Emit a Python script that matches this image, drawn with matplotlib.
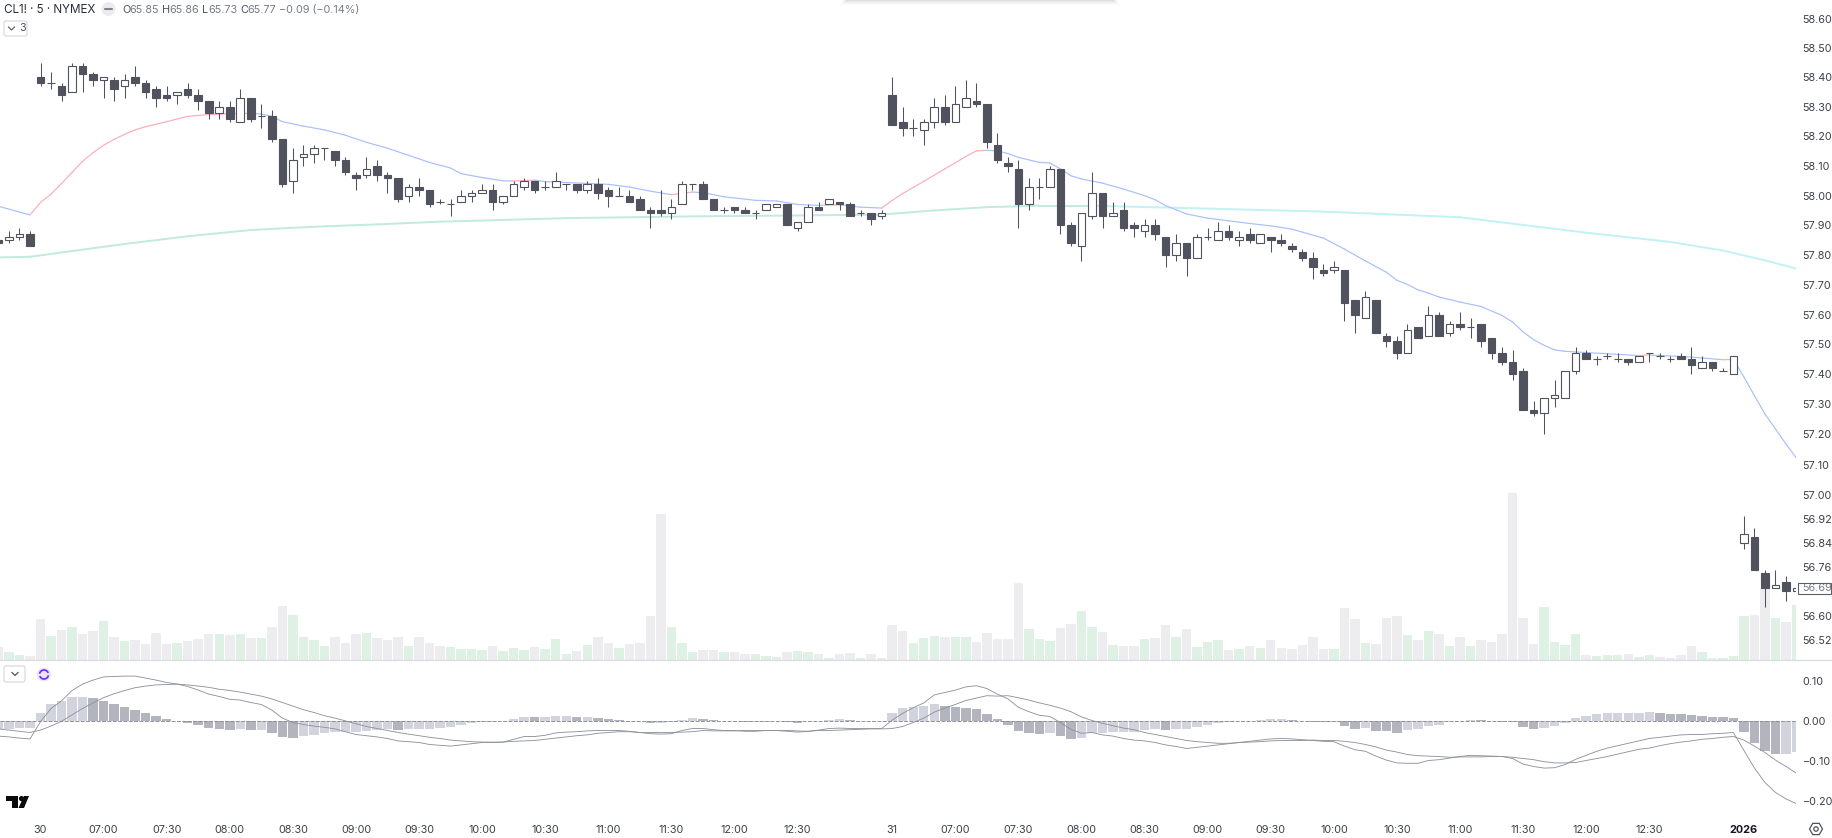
import matplotlib
matplotlib.use("Agg")
import matplotlib.pyplot as plt
from matplotlib.patches import Rectangle, FancyBboxPatch, Circle, Polygon, Arc
from matplotlib.ticker import NullLocator, NullFormatter
import numpy as np

plt.rcParams['font.family'] = ['Inter', 'DejaVu Sans']

# ---------- data ----------
bars = list(range(-4, 168))

opens = [57.85,57.85,57.86,57.87,
 58.40,58.38,58.37,58.35,58.44,58.41,58.39,58.39,58.37,58.40,58.38,58.36,58.34,58.34,58.36,58.34,
 58.32,58.28,58.30,58.25,58.33,58.27,58.27,58.19,58.05,58.13,58.14,58.16,58.15,58.12,58.07,58.07,
 58.10,58.07,58.06,58.00,58.03,58.02,57.98,57.97,57.98,58.00,58.01,58.02,57.98,58.00,58.03,58.05,
 58.03,58.03,58.04,58.04,58.02,58.04,58.02,58.00,58.00,57.99,57.95,57.95,57.94,57.97,58.04,58.04,
 57.99,57.95,57.96,57.95,57.94,57.95,57.96,57.97,57.89,57.91,57.96,57.97,57.98,57.97,57.94,57.94,
 57.93,
 58.34,58.25,58.23,58.22,58.25,58.30,58.25,58.30,58.32,58.31,58.17,58.11,58.09,57.97,58.03,58.03,
 58.09,57.90,57.83,57.93,58.01,57.93,57.95,57.90,57.88,57.90,57.86,57.80,57.84,57.79,57.86,57.85,
 57.88,57.85,57.87,57.84,57.86,57.85,57.83,57.81,57.79,57.75,57.75,57.75,57.65,57.59,57.65,57.53,
 57.51,57.47,57.56,57.53,57.60,57.54,57.57,57.56,57.57,57.52,57.47,57.44,57.41,57.28,57.27,57.32,
 57.32,57.41,57.47,57.45,57.46,57.45,57.45,57.44,57.47,57.46,57.45,57.46,57.45,57.42,57.44,57.41,
 57.40,56.84,56.86,56.74,56.69,56.71,56.68]
highs = [57.85,57.88,57.89,57.88,
 58.45,58.42,58.38,58.45,58.45,58.42,58.40,58.40,58.41,58.44,58.39,58.37,58.37,58.35,58.38,58.36,
 58.32,58.32,58.32,58.36,58.33,58.31,58.29,58.19,58.16,58.17,58.17,58.16,58.15,58.13,58.08,58.13,
 58.12,58.08,58.06,58.04,58.06,58.02,57.99,57.99,58.02,58.02,58.04,58.04,58.00,58.05,58.06,58.05,
 58.05,58.08,58.04,58.04,58.05,58.06,58.03,58.03,58.02,58.00,57.96,58.02,57.99,58.05,58.04,58.05,
 57.99,57.96,57.96,57.96,57.95,57.97,57.97,57.97,57.91,57.97,57.98,57.99,57.98,57.98,57.95,57.94,
 57.95,
 58.40,58.30,58.26,58.26,58.33,58.34,58.37,58.39,58.38,58.31,58.21,58.13,58.12,58.06,58.06,58.10,
 58.09,57.91,57.94,58.08,58.01,57.98,57.98,57.91,57.92,57.92,57.86,57.87,57.84,57.87,57.89,57.91,
 57.90,57.88,57.89,57.87,57.86,57.87,57.84,57.82,57.81,57.77,57.78,57.75,57.65,57.68,57.65,57.54,
 57.53,57.57,57.56,57.63,57.61,57.58,57.61,57.59,57.57,57.52,57.49,57.48,57.42,57.31,57.32,57.38,
 57.41,57.49,57.48,57.46,57.47,57.47,57.45,57.46,57.47,57.47,57.46,57.47,57.49,57.46,57.44,57.42,
 57.46,56.93,56.89,56.75,56.75,56.73,56.69]
lows = [57.84,57.84,57.85,57.83,
 58.37,58.36,58.32,58.35,58.35,58.37,58.33,58.32,58.33,58.37,58.33,58.30,58.32,58.31,58.33,58.29,
 58.26,58.26,58.25,58.25,58.25,58.23,58.18,58.03,58.01,58.10,58.11,58.12,58.10,58.07,58.02,58.06,
 58.05,58.01,57.98,57.98,58.00,57.96,57.97,57.93,57.98,57.98,58.01,57.95,57.97,58.00,58.02,58.01,
 58.02,58.03,58.02,58.01,58.01,57.99,57.96,58.00,57.98,57.95,57.89,57.93,57.92,57.97,58.02,57.99,
 57.95,57.94,57.94,57.94,57.92,57.95,57.96,57.90,57.88,57.91,57.95,57.97,57.95,57.93,57.93,57.90,
 57.92,
 58.24,58.20,58.20,58.17,58.23,58.24,58.25,58.30,58.30,58.16,58.11,58.08,57.89,57.95,57.99,58.03,
 57.87,57.83,57.78,57.92,57.89,57.93,57.88,57.86,57.86,57.85,57.76,57.78,57.73,57.79,57.85,57.85,
 57.85,57.83,57.84,57.84,57.81,57.83,57.81,57.78,57.72,57.73,57.74,57.58,57.54,57.59,57.54,57.49,
 57.45,57.47,57.52,57.53,57.53,57.53,57.55,57.52,57.49,57.45,57.43,57.38,57.28,57.26,57.20,57.29,
 57.32,57.40,57.45,57.43,57.45,57.44,57.43,57.44,57.44,57.45,57.44,57.45,57.40,57.42,57.41,57.41,
 57.40,56.82,56.75,56.63,56.69,56.65,56.68]
closes = [57.84,57.86,57.87,57.83,
 58.38,58.38,58.34,58.44,58.41,58.39,58.40,58.36,58.39,58.38,58.35,58.33,58.33,58.35,58.34,58.32,
 58.28,58.30,58.26,58.33,58.26,58.27,58.19,58.04,58.12,58.14,58.16,58.16,58.12,58.08,58.06,58.09,
 58.07,58.06,57.99,58.03,58.02,57.97,57.98,57.97,58.00,58.01,58.02,57.98,58.00,58.04,58.05,58.02,
 58.03,58.05,58.04,58.02,58.04,58.01,58.00,58.00,57.98,57.95,57.94,57.94,57.96,58.04,58.04,57.99,
 57.95,57.95,57.95,57.94,57.94,57.97,57.97,57.90,57.91,57.96,57.95,57.99,57.97,57.93,57.94,57.92,
 57.94,
 58.24,58.23,58.23,58.25,58.30,58.25,58.31,58.33,58.31,58.18,58.12,58.10,57.97,58.03,58.03,58.09,
 57.90,57.84,57.94,58.01,57.93,57.94,57.89,57.89,57.90,57.87,57.80,57.84,57.79,57.86,57.86,57.88,
 57.86,57.86,57.85,57.87,57.85,57.84,57.82,57.79,57.76,57.74,57.76,57.64,57.60,57.66,57.54,57.51,
 57.47,57.55,57.52,57.60,57.53,57.57,57.56,57.56,57.51,57.47,57.44,57.40,57.28,57.27,57.32,57.33,
 57.41,57.47,57.45,57.45,57.46,57.45,57.44,57.46,57.47,57.46,57.45,57.45,57.43,57.44,57.42,57.41,
 57.46,56.87,56.75,56.69,56.70,56.68,56.69]

volume = [40,23,15,12,
 122,72,90,99,78,87,117,69,57,60,48,81,48,52,57,63,78,78,75,77,66,66,99,162,135,68,60,41,69,51,78,81,66,60,68,42,69,50,42,40,33,32,30,41,27,36,30,39,32,63,17,27,45,68,50,36,
 48,50,132,438,99,51,23,30,30,23,25,18,18,12,9,23,27,25,18,6,18,21,6,18,6,
 105,87,51,66,72,69,69,69,54,81,63,63,231,93,63,57,96,108,147,99,84,45,42,42,63,66,104,68,93,40,54,59,30,32,
 41,36,59,36,32,45,68,32,33,155,123,51,48,126,131,76,60,86,78,42,68,41,60,54,78,501,126,48,158,54,45,78,15,12,14,15,18,9,15,9,6,15,42,23,6,5,12,132,135,216,126,114,165]
green_bars = [-3,-2,1,3,6,8,13,17,19,21,24,25,26,27,31,35,39,40,41,42,44,45,46,48,49,50,52,55,60,61,62,65,68,
 69,70,72,73,75,78,80,83,84,85,87,88,94,95,96,99,100,102,105,108,110,111,112,114,116,123,126,130,132,134,
 136,143,144,145,146,148,149,150,152,153,158,160,161,162,165,167]

# MACD study, thousandths
hist = [-20,-19,-17,-17,
 21,43,51,61,61,58,52,43,36,28,20,13,5,1,-4,-10,-17,-18,-22,-20,-22,-22,-28,-39,-41,-37,-33,-29,-27,-27,-27,-23,-22,-20,-22,-19,-18,-18,-17,-15,-10,-5,-2,-1,0,5,11,10,10,13,13,10,10,8,5,3,
 1,0,-3,-3,-2,3,8,5,3,2,1,-2,-2,-1,1,-2,-3,0,2,4,5,3,2,1,1,
 21,33,37,38,43,38,36,34,31,18,5,-8,-24,-29,-31,-28,-36,-44,-41,-30,-29,-26,-26,-26,-22,-20,-22,-20,-20,-14,-8,-4,-1,0,
 2,4,5,5,3,2,-1,-2,-2,-12,-18,-17,-23,-25,-28,-22,-19,-12,-8,-2,1,4,3,2,-1,-2,-14,-18,-16,-12,-3,8,13,18,21,21,21,21,23,21,19,18,16,13,12,10,9,-27,-55,-75,-81,-81,-76]
signal = [-19,-22,-25,-28,
 -22,-12,0,16,32,46,59,69,77,84,88,91,92,93,91,88,85,80,77,73,68,63,56,47,38,29,22,14,8,1,-6,-13,-18,-23,-28,-32,-36,-40,-43,-47,-49,-51,-52,-52,-52,-50,-49,-48,-45,-42,-39,-36,-34,-30,-28,-26,
 -26,-28,-28,-28,-28,-27,-26,-23,-24,-24,-24,-23,-23,-23,-23,-23,-24,-25,-23,-23,-22,-21,-20,-19,-19,
 -18,-13,-3,8,23,33,42,52,58,64,63,64,59,53,46,40,33,24,11,2,-5,-11,-17,-21,-28,-33,-38,-43,-48,-51,-53,-55,-55,-53,
 -52,-51,-49,-48,-48,-48,-47,-48,-48,-50,-53,-58,-64,-72,-77,-83,-86,-87,-88,-90,-89,-89,-89,-88,-88,-90,-93,-96,-101,-104,-104,-103,-98,-93,-88,-82,-76,-70,-67,-61,-56,-52,-49,-45,-43,-40,-38,-47,-62,-78,-97,-113,-130]
macd = [-37,-39,-42,-44,
 -1,32,51,77,93,103,111,112,113,113,108,103,97,93,87,78,68,62,55,53,47,42,28,8,-3,-8,-12,-15,-19,-26,-33,-36,-39,-43,-49,-51,-53,-58,-60,-62,-59,-56,-53,-53,-52,-45,-38,-38,-35,-29,-27,-26,-24,-23,-23,-23,
 -25,-28,-31,-32,-31,-23,-18,-18,-21,-23,-23,-25,-25,-23,-23,-25,-27,-25,-22,-18,-17,-18,-18,-18,-18,
 3,20,34,46,66,72,78,86,89,82,68,56,35,24,15,12,-3,-20,-30,-28,-34,-37,-43,-47,-49,-53,-59,-63,-68,-65,-62,-59,-56,-53,
 -50,-47,-44,-43,-44,-46,-48,-50,-51,-62,-71,-75,-87,-97,-104,-105,-105,-98,-96,-92,-88,-85,-86,-87,-88,-93,-107,-113,-117,-116,-108,-95,-85,-75,-67,-61,-55,-49,-43,-40,-37,-34,-33,-33,-31,-30,-28,-73,-117,-153,-178,-194,-206]

# moving averages (bar, value)
ema_fast_bar = [-4,-1,0,1,2,3,4,5,6,7,8,9,10,12,14,16,18,20,21,22,23,25,27,29,31,33,35,37,39,40,42,44,45,46,47,48,50,52,54,56,58,60,61,62,63,65,68,70,72,74,76,78,80,
 81,82,84,86,88,89,90,91,92,93,95,96,97,98,99,101,103,105,106,107,108,109,111,113,115,117,119,120,122,124,126,128,129,130,131,132,133,135,137,139,140,141,142,143,144,145,147,150,152,153,157,160,161,162,163,164,165,166,167]
ema_fast_val = [57.964,57.935,57.977,58.005,58.041,58.078,58.116,58.145,58.170,58.190,58.207,58.222,58.233,58.250,58.268,58.274,58.277,58.278,58.276,58.268,58.250,58.235,58.222,58.204,58.180,58.160,58.136,58.112,58.093,58.074,58.061,58.050,58.049,58.051,58.052,58.047,58.044,58.041,58.038,58.029,58.015,58.003,58.008,58.012,58.010,57.996,57.984,57.982,57.970,57.967,57.969,57.961,57.958,
 57.984,58.007,58.048,58.090,58.132,58.151,58.153,58.151,58.142,58.129,58.112,58.110,58.090,58.067,58.056,58.042,58.022,58.000,57.986,57.966,57.952,57.938,57.924,57.915,57.906,57.898,57.887,57.877,57.857,57.820,57.780,57.742,57.715,57.701,57.683,57.672,57.659,57.642,57.627,57.597,57.575,57.542,57.516,57.497,57.482,57.477,57.473,57.467,57.463,57.465,57.458,57.449,57.450,57.391,57.329,57.268,57.218,57.168,57.121]
ema_slow_bar = [-4,-1,4,8,14,20,26,32,38,50,62,72,80,85,90,95,100,110,122,135,147,155,160,164,167]
ema_slow_val = [57.792,57.794,57.818,57.837,57.863,57.884,57.895,57.903,57.912,57.924,57.930,57.933,57.936,57.950,57.961,57.966,57.966,57.957,57.946,57.927,57.875,57.844,57.815,57.782,57.754]

time_pos = [0,6,12,18,24,30,36,42,48,54,60,66,72,81,87,93,99,105,111,117,123,129,135,141,147,153,162]
time_labels = ['30','07:00','07:30','08:00','08:30','09:00','09:30','10:00','10:30','11:00','11:30','12:00','12:30',
               '31','07:00','07:30','08:00','08:30','09:00','09:30','10:00','10:30','11:00','11:30','12:00','12:30','2026']
price_ticks = [58.60,58.50,58.40,58.30,58.20,58.10,58.00,57.90,57.80,57.70,57.60,57.50,57.40,57.30,57.20,57.10,57.00,56.92,56.84,56.76,56.60,56.52]
macd_ticks = [0.10,0.00,-0.10,-0.20]

for arr in (opens, highs, lows, closes, volume, hist, signal, macd):
    assert len(arr) == len(bars), len(arr)
assert len(ema_fast_bar) == len(ema_fast_val)

# ---------- styling ----------
W, H = 1832, 838
DARK = '#50535E'
TXT = '#3E4048'
XMIN = (0 - 40.5) / 10.515
XMAX = (1796 - 40.5) / 10.515
FS = 7.8

fig = plt.figure(figsize=(W / 100, H / 100), dpi=100, facecolor='white')

def px_axes(x0, y0, x1, y1, **kw):
    return fig.add_axes([x0 / W, 1 - y1 / H, (x1 - x0) / W, (y1 - y0) / H], **kw)

ax_vol = px_axes(0, 0, 1796, 660, zorder=1)
ax = px_axes(0, 0, 1796, 660, zorder=2)
ax_macd = px_axes(0, 660, 1796, 818, zorder=2)
for a in (ax_vol, ax, ax_macd):
    for s in a.spines.values():
        s.set_visible(False)
    a.set_xlim(XMIN, XMAX)
ax.patch.set_alpha(0)
ax_macd.patch.set_alpha(0)

# volume (behind the candles)
vol_colors = ['#DFF0E4' if b in green_bars else '#EDEDF0' for b in bars]
ax_vol.bar(bars, volume, width=0.9, color=vol_colors, linewidth=0)
ax_vol.set_ylim(0, 1980)
ax_vol.set_xticks([])
ax_vol.set_yticks([])

# moving averages
ax.set_yscale('log')
for k in range(len(ema_slow_bar) - 1):
    rising = ema_slow_val[k + 1] >= ema_slow_val[k]
    ax.plot(ema_slow_bar[k:k + 2], ema_slow_val[k:k + 2], color='#C2EADF' if rising else '#C2F2F2',
            lw=1.4, solid_capstyle='round', zorder=2)
for k in range(len(ema_fast_bar) - 1):
    rising = ema_fast_val[k + 1] > ema_fast_val[k]
    ax.plot(ema_fast_bar[k:k + 2], ema_fast_val[k:k + 2], color='#F9AEB6' if rising else '#A8BFFB',
            lw=0.85, solid_capstyle='round', zorder=3)

# candles
ax.vlines(bars, lows, highs, color=DARK, lw=0.75, zorder=4)
body_low = [min(o, c) for o, c in zip(opens, closes)]
body_h = [abs(o - c) for o, c in zip(opens, closes)]
faces = [DARK if c < o else 'white' for o, c in zip(opens, closes)]
ax.bar(bars, body_h, bottom=body_low, width=0.72, color=faces, edgecolor=DARK, linewidth=0.8, zorder=5)

ylo = 58.5 * np.exp(-612 / 17195)
yhi = 58.5 * np.exp(48 / 17195)
ax.set_ylim(ylo, yhi)
ax.set_xlim(XMIN, XMAX)
ax.set_xticks([])
ax.yaxis.tick_right()
ax.yaxis.set_minor_locator(NullLocator())
ax.yaxis.set_minor_formatter(NullFormatter())
ax.set_yticks(price_ticks, [f'{p:.2f}' for p in price_ticks])
ax.yaxis.set_minor_locator(NullLocator())
ax.tick_params(axis='y', length=0, pad=4.8, labelsize=FS, labelcolor=TXT)

last = closes[-1]
ax.annotate(f'{last:.2f}', xy=(1, last), xycoords=('axes fraction', 'data'), xytext=(4.8, 0),
            textcoords='offset points', va='center', ha='left', fontsize=FS, color='#787B86',
            annotation_clip=False, zorder=20)

# MACD pane
hvals = [h / 1000 for h in hist]
hcolors = []
for k, v in enumerate(hvals):
    falling = k > 0 and v < hvals[k - 1]
    hcolors.append('#B2B5BE' if falling else '#D1D4DC')
ax_macd.bar(bars, hvals, width=0.9, color=hcolors, linewidth=0, zorder=1)
ax_macd.axhline(0, color='#8E909A', lw=0.7, ls=(0, (4, 1.5)), zorder=2)
ax_macd.plot(bars, [v / 1000 for v in signal], color='#8E909A', lw=0.62, zorder=3)
ax_macd.plot(bars, [v / 1000 for v in macd], color='#8E909A', lw=0.62, zorder=3)
ax_macd.set_ylim(-(818 - 721.3) / 400, (721.3 - 660) / 400)
ax_macd.set_xlim(XMIN, XMAX)
ax_macd.yaxis.tick_right()
ax_macd.set_yticks(macd_ticks, [f'{v:.2f}'.replace('-', '\u2212') for v in macd_ticks])
ax_macd.tick_params(axis='y', length=0, pad=4.8, labelsize=FS, labelcolor=TXT)
ax_macd.set_xticks(time_pos, time_labels)
ax_macd.tick_params(axis='x', length=0, pad=4.8, labelsize=FS, labelcolor=TXT)
for lab in ax_macd.get_xticklabels():
    if lab.get_text() == '2026':
        lab.set_fontweight('bold')
        lab.set_color('#131722')

# ---------- chrome drawn in pixel space ----------
ov = fig.add_axes([0, 0, 1, 1], zorder=10)
ov.set_xlim(0, W)
ov.set_ylim(H, 0)
ov.axis('off')
ov.patch.set_alpha(0)

ov.plot([0, W], [660, 660], color='#D9DCE6', lw=0.9)

# last price box
ov.add_patch(Rectangle((1797.5, 583), 33.5, 11, fc='none', ec='#5D606B', lw=0.8))

# top toolbar shadow
for k, a in enumerate([0.09, 0.07, 0.05, 0.035, 0.02]):
    ov.add_patch(Rectangle((846 - k, 0), 268 + 2 * k, k + 1.5, fc='#80838C', ec='none', alpha=a))

# header
ov.text(4, 10, 'CL1! \u00b7 5 \u00b7 NYMEX', fontsize=8.4, color='#2A2E39', va='center', ha='left')
ov.add_patch(Circle((108.5, 9), 7, fc='#ECECEE', ec='none'))
ov.plot([105, 112], [9, 9], color='#80838C', lw=1.5, solid_capstyle='round')
for x, letter, value in [(122, 'O', '65.85'), (162, 'H', '65.86'), (202, 'L', '65.73'), (240, 'C', '65.77')]:
    ov.text(x, 10, letter, fontsize=FS, color='#50535E', va='center', ha='left')
    ov.text(x + (7.5 if letter != 'L' else 6), 10, value, fontsize=FS, color='#787B86', va='center', ha='left')
ov.text(279, 10, '\u22120.09 (\u22120.14%)', fontsize=FS, color='#787B86', va='center', ha='left')

# collapsed-study buttons
ov.add_patch(FancyBboxPatch((4, 21), 23, 15, boxstyle='round,pad=0,rounding_size=2', fc='white', ec='#D4D6DD', lw=0.8))
ov.plot([8.5, 11.5, 14.5], [27, 30, 27], color='#50535E', lw=0.8)
ov.text(19, 28, '3', fontsize=FS, color='#50535E', va='center', ha='left')

ov.add_patch(FancyBboxPatch((4, 666), 21, 16, boxstyle='round,pad=0,rounding_size=2', fc='white', ec='#D4D6DD', lw=0.8))
ov.plot([12, 15, 18], [672.5, 675.5, 672.5], color='#50535E', lw=0.9)
ov.add_patch(Circle((44, 674.5), 7, fc='#EBE4FC', ec='none'))
ov.add_patch(Arc((44, 674.5), 9, 9, angle=0, theta1=190, theta2=340, ec='#6A2CF5', lw=1.2))
ov.add_patch(Arc((44, 674.5), 9, 9, angle=0, theta1=10, theta2=160, ec='#6A2CF5', lw=1.2))

# logo
ov.add_patch(Polygon([(6, 796), (18, 796), (18, 808), (12, 808), (12, 801), (6, 801)], fc='#0B0B0E', ec='none'))
ov.add_patch(Circle((21.5, 798.6), 2.6, fc='#0B0B0E', ec='none'))
ov.add_patch(Polygon([(24, 796), (29, 796), (24, 808), (18.5, 808)], fc='#0B0B0E', ec='none'))

# settings icon
ang = np.deg2rad(np.arange(0, 360, 60))
ov.add_patch(Polygon(np.c_[1816 + 6.5 * np.cos(ang), 829 + 6.5 * np.sin(ang)], fc='none', ec='#50535E', lw=0.9))
ov.add_patch(Circle((1816, 829), 2.2, fc='none', ec='#50535E', lw=0.9))

fig.savefig('out.png', dpi=100)
